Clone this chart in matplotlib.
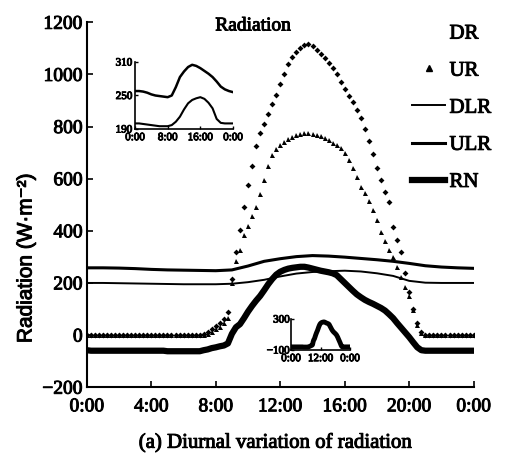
import numpy as np
import matplotlib
matplotlib.use("Agg")
import matplotlib.pyplot as plt
import matplotlib.patheffects as pe
from matplotlib.lines import Line2D

plt.rcParams['font.family'] = ['Liberation Serif', 'DejaVu Serif']
plt.rcParams['axes.unicode_minus'] = True

# scanned print looks heavy, thicken the glyphs a bit
heavy = [pe.withStroke(linewidth=0.7, foreground='k')]

# 15 min samples, 0:00 .. 24:00
t15 = np.arange(97) * 0.25
# hourly samples for the long-wave terms
th = np.arange(25) * 1.0

# downward short-wave radiation (W m-2)
dr = [0, 0, 0, 0, 0, 0, 0, 0, 0, 0, 0, 0, 0, 0, 0, 0,
      0, 0, 0, 0, 0, 0, 0, 0, 0, 0, 0, 0, 0,
      5, 12, 22, 35, 48, 62, 88,
      215, 320, 405, 490, 575, 650, 725, 775,
      810, 850, 885, 920, 965, 1000, 1040, 1065,
      1085, 1100, 1112, 1118, 1108, 1095, 1080, 1062,
      1045, 1025, 1000, 972, 945, 918, 895, 865,
      833, 790, 745, 695, 640, 595, 550, 510,
      415, 365, 320, 240, 165, 100, 45, 10,
      0, 0, 0, 0, 0, 0, 0, 0, 0, 0, 0, 0, 0]

# upward short-wave radiation
ur = [0, 0, 0, 0, 0, 0, 0, 0, 0, 0, 0, 0, 0, 0, 0, 0,
      0, 0, 0, 0, 0, 0, 0, 0, 0, 0, 0, 0, 0, 0,
      4, 12, 22, 32, 45, 65,
      200, 285, 325, 385, 420, 455, 490, 540,
      595, 650, 690, 715, 730, 742, 752, 760,
      766, 771, 775, 777, 772, 767, 762, 756,
      748, 738, 728, 716, 700, 672, 640, 605,
      568, 545, 515, 478, 440, 395, 360, 328,
      298, 262, 222, 185, 148, 95, 40, 8,
      0, 0, 0, 0, 0, 0, 0, 0, 0, 0, 0, 0, 0]

# net radiation
rn = [-58, -60, -60, -60, -60, -60, -60, -60, -60, -60, -60, -60,
      -60, -60, -60, -60, -60, -60, -60, -60, -62, -62, -62, -62,
      -62, -62, -62, -62, -62,
      -58, -55, -50, -47, -43, -40, -32,
      5, 30, 42, 65, 90, 112, 132, 150,
      172, 195, 215, 232, 243, 250, 255, 258,
      260, 262, 262, 259, 255, 251, 247, 244,
      241, 237, 230, 215, 200, 185, 170, 156,
      145, 135, 127, 120, 112, 104, 94, 80,
      65, 46, 28, 10, -8, -28, -47, -58,
      -60, -60, -60, -60, -60, -60, -60, -60, -60, -60, -60, -60, -60]

# downward / upward long-wave radiation, hourly
dlr = [200, 200, 199, 198, 197, 196, 195, 195, 195, 197, 203, 212, 225,
       236, 242, 245, 247, 244, 237, 227, 208, 201, 200, 200, 200]
ulr = [258, 258, 257, 255, 252, 250, 249, 248, 247, 250, 265, 283, 293,
       301, 305, 303, 299, 294, 289, 283, 275, 266, 261, 258, 256]

hour_ticks = [0, 4, 8, 12, 16, 20, 24]
hour_labels = ['0:00', '4:00', '8:00', '12:00', '16:00', '20:00', '0:00']

fig = plt.figure(figsize=(5.11, 4.55), dpi=100)
ax = fig.add_axes([0.170, 0.149, 0.757, 0.802])

ax.plot(t15, dr, ls='none', marker='D', ms=3.0, mew=0, color='k')
ax.plot(t15, ur, ls='none', marker='^', ms=3.6, mew=0, color='k')
ax.plot(th, dlr, color='k', lw=1.4)
ax.plot(th, ulr, color='k', lw=2.2)
ax.plot(t15, rn, color='k', lw=4.5)

ax.set_xlim(0, 24)
ax.set_ylim(-200, 1200)
ax.set_xticks(hour_ticks)
ax.set_xticklabels(hour_labels)
ax.set_yticks(np.arange(-200, 1201, 200))
for s in ['top', 'right']:
    ax.spines[s].set_visible(False)
for s in ['left', 'bottom']:
    ax.spines[s].set_linewidth(1.5)
ax.tick_params(direction='in', length=4, width=1.2, labelsize=14)
ax.tick_params(axis='x', pad=8)
ax.tick_params(axis='y', pad=3)

ax.text(0.43, 0.99, 'Radiation', transform=ax.transAxes,
        ha='center', va='center', fontsize=14, path_effects=heavy)

fig.text(26/511, 1 - 258/455, 'Radiation (W·m⁻²)', rotation=90,
         ha='center', va='center', fontsize=15,
         family=['Liberation Sans', 'DejaVu Sans'], path_effects=heavy)
fig.text(276/511, 1 - 443/455, '(a) Diurnal variation of radiation',
         ha='center', va='center', fontsize=15, path_effects=heavy)

handles = [Line2D([], [], ls='none', marker=''),
           Line2D([], [], ls='none', marker='^', ms=3.8, color='k'),
           Line2D([], [], color='k', lw=1.4),
           Line2D([], [], color='k', lw=2.2),
           Line2D([], [], color='k', lw=4.5)]
leg = fig.legend(handles, ['DR', 'UR', 'DLR', 'ULR', 'RN'],
                 loc='upper left', bbox_to_anchor=(412/511, 1 - 24/455),
                 bbox_transform=fig.transFigure, frameon=False, fontsize=15,
                 handlelength=1.6, handletextpad=0.2, labelspacing=0.84,
                 borderpad=0, borderaxespad=0)
for txt in leg.get_texts():
    txt.set_path_effects(heavy)

# inset: long-wave terms
ax1 = fig.add_axes([135/511, 1 - 129/455, 98/511, 67/455])
ax1.patch.set_alpha(0)
ax1.plot(th, ulr, color='k', lw=1.8)
ax1.plot(th, dlr, color='k', lw=1.5)
ax1.set_xlim(0, 24)
ax1.set_ylim(190, 310)
ax1.set_xticks([0, 8, 16, 24])
ax1.set_xticklabels(['0:00', '8:00', '16:00', '0:00'])
ax1.set_yticks([190, 250, 310])
for s in ['top', 'right']:
    ax1.spines[s].set_visible(False)
for s in ['left', 'bottom']:
    ax1.spines[s].set_linewidth(1.2)
ax1.tick_params(direction='in', length=2, width=1, labelsize=8)
ax1.tick_params(axis='x', pad=3)
ax1.tick_params(axis='y', pad=2)

# inset: net radiation
ax2 = fig.add_axes([291/511, 1 - 350/455, 59/511, 31/455])
ax2.patch.set_alpha(0)
ax2.plot(t15, rn, color='k', lw=3.5)
ax2.set_xlim(0, 24)
ax2.set_ylim(-100, 300)
ax2.set_xticks([0, 12, 24])
ax2.set_xticklabels(['0:00', '12:00', '0:00'])
ax2.set_yticks([-100, 300])
for s in ['top', 'right']:
    ax2.spines[s].set_visible(False)
for s in ['left', 'bottom']:
    ax2.spines[s].set_linewidth(1.2)
ax2.tick_params(direction='in', length=2, width=1, labelsize=8)
ax2.tick_params(axis='x', pad=3)
ax2.tick_params(axis='y', pad=1)

for a in [ax, ax1, ax2]:
    for lab in a.get_xticklabels() + a.get_yticklabels():
        lab.set_path_effects(heavy)

fig.savefig('out.png', dpi=100)
